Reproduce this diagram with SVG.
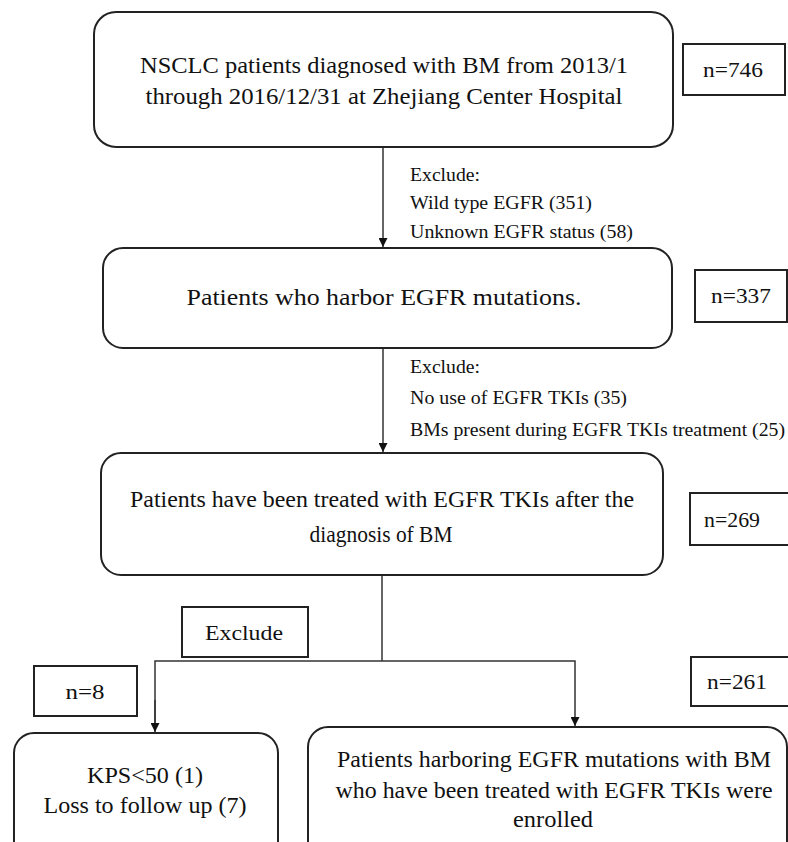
<svg xmlns="http://www.w3.org/2000/svg" width="788" height="842" viewBox="0 0 788 842" font-family="Liberation Serif, Times New Roman, DejaVu Serif, serif">
<style>
.box{fill:#fff;stroke:#222;stroke-width:2}
.nb{fill:#fff;stroke:#222;stroke-width:2}
text{fill:#111}
.t{font-size:23px;text-anchor:middle}
.s{font-size:19px}
.n{font-size:22px;text-anchor:middle}
.c{fill:none;stroke:#333;stroke-width:1.5}
</style>
<defs>
<marker id="ah" viewBox="0 0 10 10" refX="10" refY="5" markerWidth="9" markerHeight="9" markerUnits="userSpaceOnUse" orient="auto"><path d="M0,0 L10,5 L0,10 z" fill="#111"/></marker>
</defs>
<rect width="788" height="842" fill="#fff"/>
<g id="connectors">
<line class="c" x1="383" y1="147" x2="383" y2="247" marker-end="url(#ah)"/>
<line class="c" x1="383" y1="348" x2="383" y2="452" marker-end="url(#ah)"/>
<line class="c" x1="382" y1="575" x2="382" y2="661"/>
<polyline class="c" points="155,731 155,661 575,661 575,726" marker-end="url(#ah)"/>
<line class="c" x1="155" y1="700" x2="155" y2="732" marker-end="url(#ah)"/>
</g>
<g id="node1">
<rect class="box" x="94" y="12" width="579" height="135" rx="22"/>
<text class="t" x="384" y="73" textLength="488" lengthAdjust="spacingAndGlyphs">NSCLC patients diagnosed with BM from 2013/1</text>
<text class="t" x="384" y="104" textLength="477" lengthAdjust="spacingAndGlyphs">through 2016/12/31 at Zhejiang Center Hospital</text>
</g>
<g id="n746"><rect class="nb" x="683" y="44" width="102" height="51"/><text class="n" x="733" y="77" textLength="60" lengthAdjust="spacingAndGlyphs">n=746</text></g>
<g id="exclude1">
<text class="s" x="410" y="181" textLength="70" lengthAdjust="spacingAndGlyphs">Exclude:</text>
<text class="s" x="410" y="209" textLength="182" lengthAdjust="spacingAndGlyphs">Wild type EGFR (351)</text>
<text class="s" x="410" y="238" textLength="223" lengthAdjust="spacingAndGlyphs">Unknown EGFR status (58)</text>
</g>
<g id="node2">
<rect class="box" x="103" y="248" width="569" height="100" rx="20"/>
<text class="t" x="384" y="305" textLength="395" lengthAdjust="spacingAndGlyphs">Patients who harbor EGFR mutations.</text>
</g>
<g id="n337"><rect class="nb" x="695" y="270" width="92" height="52"/><text class="n" x="741" y="303" textLength="60" lengthAdjust="spacingAndGlyphs">n=337</text></g>
<g id="exclude2">
<text class="s" x="410" y="373" textLength="70" lengthAdjust="spacingAndGlyphs">Exclude:</text>
<text class="s" x="410" y="404" textLength="217" lengthAdjust="spacingAndGlyphs">No use of EGFR TKIs (35)</text>
<text class="s" x="410" y="436" textLength="375" lengthAdjust="spacingAndGlyphs">BMs present during EGFR TKIs treatment (25)</text>
</g>
<g id="node3">
<rect class="box" x="101" y="453" width="562" height="122" rx="20"/>
<text class="t" x="382" y="507" textLength="504" lengthAdjust="spacingAndGlyphs">Patients have been treated with EGFR TKIs after the</text>
<text class="t" x="381" y="542" textLength="143" lengthAdjust="spacingAndGlyphs">diagnosis of BM</text>
</g>
<g id="n269"><rect class="nb" x="690" y="493" width="100" height="52"/><text class="n" x="732" y="527" textLength="56" lengthAdjust="spacingAndGlyphs">n=269</text></g>
<g id="exclude3"><rect class="nb" x="182" y="607" width="126" height="50"/><text class="n" x="244" y="640" textLength="78" lengthAdjust="spacingAndGlyphs">Exclude</text></g>
<g id="n8"><rect class="nb" x="34" y="666" width="103" height="50"/><text class="n" x="85" y="699" textLength="39" lengthAdjust="spacingAndGlyphs">n=8</text></g>
<g id="n261"><rect class="nb" x="691" y="657" width="102" height="49"/><text class="n" x="737" y="689" textLength="60" lengthAdjust="spacingAndGlyphs">n=261</text></g>
<g id="node4">
<rect class="box" x="14" y="733" width="264" height="130" rx="20"/>
<text class="t" x="145" y="783" textLength="116" lengthAdjust="spacingAndGlyphs">KPS&lt;50 (1)</text>
<text class="t" x="145" y="813" textLength="203" lengthAdjust="spacingAndGlyphs">Loss to follow up (7)</text>
</g>
<g id="node5">
<rect class="box" x="308" y="727" width="479" height="140" rx="20"/>
<text class="t" x="554" y="767" textLength="434" lengthAdjust="spacingAndGlyphs">Patients harboring EGFR mutations with BM</text>
<text class="t" x="554" y="798" textLength="437" lengthAdjust="spacingAndGlyphs">who have been treated with EGFR TKIs were</text>
<text class="t" x="553" y="827" textLength="80" lengthAdjust="spacingAndGlyphs">enrolled</text>
</g>
</svg>
